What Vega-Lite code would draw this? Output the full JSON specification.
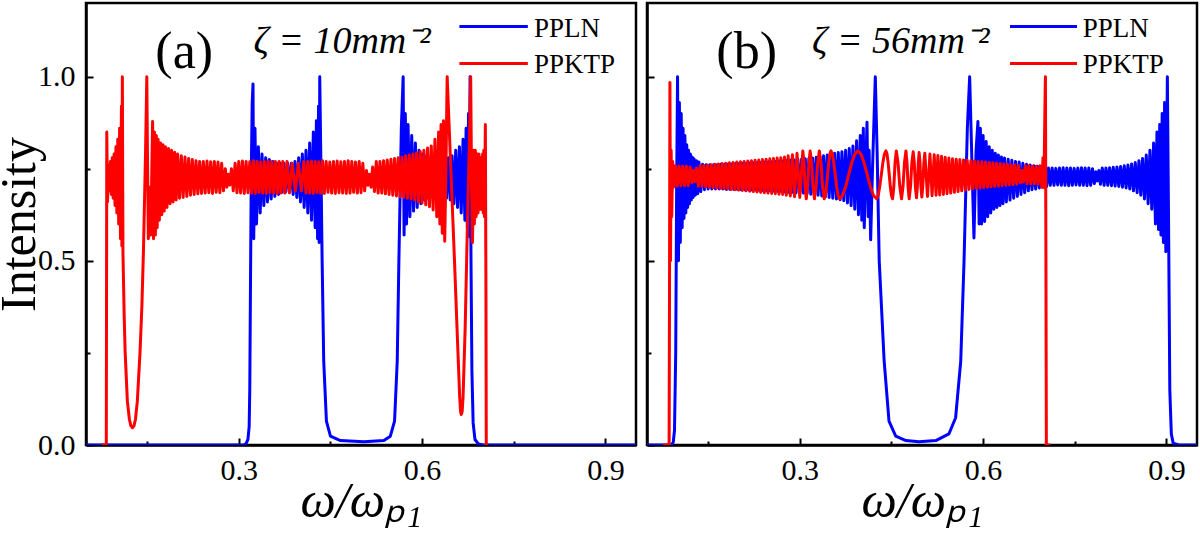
{
  "$schema": "https://vega.github.io/schema/vega-lite/v6.json",
  "description": "Normalised intensity against w/wp1 for PPLN and PPKTP, two poling densities.",
  "padding": {"left": -7, "top": 1, "right": 2, "bottom": 0},
  "spacing": 6,
  "datasets": {
    "aLN": [
      {"w":0.05,"I":0},{"w":0.308,"I":0},{"w":0.312,"I":0.004},{"w":0.315,"I":0.015},{"w":0.317,"I":0.05},{"w":0.318,"I":0.15},{"w":0.319,"I":0.4},{"w":0.3205,"I":0.75},{"w":0.322,"I":0.93},{"w":0.3233,"I":0.98},
      {"w":0.3245,"I":0.56},{"w":0.3265,"I":0.86},{"w":0.329,"I":0.6},{"w":0.332,"I":0.81},{"w":0.335,"I":0.63},{"w":0.338,"I":0.79},{"w":0.341,"I":0.65},{"w":0.344,"I":0.78},{"w":0.347,"I":0.66},{"w":0.35,"I":0.775},{"w":0.353,"I":0.668},{"w":0.356,"I":0.77},{"w":0.359,"I":0.675},{"w":0.362,"I":0.765},{"w":0.365,"I":0.68},{"w":0.368,"I":0.765},{"w":0.371,"I":0.686},{"w":0.374,"I":0.765},{"w":0.377,"I":0.688},{"w":0.38,"I":0.765},{"w":0.383,"I":0.686},{"w":0.386,"I":0.765},{"w":0.389,"I":0.68},{"w":0.392,"I":0.77},{"w":0.395,"I":0.672},{"w":0.398,"I":0.78},{"w":0.401,"I":0.66},{"w":0.404,"I":0.79},{"w":0.407,"I":0.645},{"w":0.41,"I":0.8},{"w":0.413,"I":0.63},{"w":0.416,"I":0.82},{"w":0.419,"I":0.61},{"w":0.422,"I":0.85},{"w":0.425,"I":0.59},{"w":0.427,"I":0.88},{"w":0.429,"I":0.56},{"w":0.4305,"I":0.92},{"w":0.4315,"I":0.55},
      {"w":0.4325,"I":1.0},{"w":0.4345,"I":0.75},{"w":0.4364,"I":0.5},{"w":0.439,"I":0.228},{"w":0.4434,"I":0.065},{"w":0.45,"I":0.024},{"w":0.4664,"I":0.012},{"w":0.5046,"I":0.009},{"w":0.5374,"I":0.012},{"w":0.548,"I":0.024},{"w":0.5549,"I":0.065},{"w":0.5593,"I":0.228},{"w":0.562,"I":0.5},{"w":0.566,"I":0.86},{"w":0.569,"I":1.0},
      {"w":0.5705,"I":0.57},{"w":0.5725,"I":0.9},{"w":0.5745,"I":0.6},{"w":0.577,"I":0.87},{"w":0.58,"I":0.62},{"w":0.583,"I":0.84},{"w":0.586,"I":0.635},{"w":0.589,"I":0.82},{"w":0.592,"I":0.645},{"w":0.595,"I":0.8},{"w":0.598,"I":0.655},{"w":0.601,"I":0.79},{"w":0.604,"I":0.665},{"w":0.607,"I":0.785},{"w":0.61,"I":0.67},{"w":0.613,"I":0.78},{"w":0.616,"I":0.675},{"w":0.619,"I":0.775},{"w":0.622,"I":0.675},{"w":0.625,"I":0.775},{"w":0.628,"I":0.675},{"w":0.631,"I":0.775},{"w":0.634,"I":0.675},{"w":0.637,"I":0.775},{"w":0.64,"I":0.67},{"w":0.643,"I":0.78},{"w":0.646,"I":0.665},{"w":0.649,"I":0.785},{"w":0.652,"I":0.655},{"w":0.655,"I":0.8},{"w":0.658,"I":0.645},{"w":0.661,"I":0.81},{"w":0.664,"I":0.63},{"w":0.667,"I":0.83},{"w":0.67,"I":0.61},{"w":0.672,"I":0.86},{"w":0.674,"I":0.59},{"w":0.676,"I":0.9},{"w":0.677,"I":0.566},
      {"w":0.6785,"I":1.0},{"w":0.68,"I":0.5},{"w":0.6815,"I":0.2},{"w":0.6835,"I":0.06},{"w":0.6865,"I":0.015},{"w":0.692,"I":0.003},{"w":0.7,"I":0},{"w":0.95,"I":0}
    ],
    "aKT": [
      {"w":0.076,"I":0},{"w":0.0832,"I":0},{"w":0.0836,"I":0.4},{"w":0.084,"I":0.85},{"w":0.0852,"I":0.66},{"w":0.087,"I":0.76},{"w":0.0885,"I":0.69},{"w":0.09,"I":0.77},{"w":0.0915,"I":0.68},{"w":0.093,"I":0.78},{"w":0.0945,"I":0.67},{"w":0.096,"I":0.79},{"w":0.0975,"I":0.65},{"w":0.099,"I":0.81},{"w":0.1005,"I":0.63},{"w":0.102,"I":0.83},{"w":0.1035,"I":0.6},{"w":0.105,"I":0.86},{"w":0.1065,"I":0.56},{"w":0.108,"I":0.92},{"w":0.1087,"I":0.54},
      {"w":0.1095,"I":1.0},{"w":0.1105,"I":0.52},{"w":0.1125,"I":0.35},{"w":0.114,"I":0.255},{"w":0.1177,"I":0.119},{"w":0.121,"I":0.07},{"w":0.1235,"I":0.052},{"w":0.126,"I":0.047},{"w":0.1285,"I":0.052},{"w":0.131,"I":0.07},{"w":0.134,"I":0.119},{"w":0.1385,"I":0.255},{"w":0.1415,"I":0.38},{"w":0.144,"I":0.526},{"w":0.1475,"I":0.8},{"w":0.1495,"I":1.0},
      {"w":0.1505,"I":0.8},{"w":0.152,"I":0.56},{"w":0.1545,"I":0.7},{"w":0.156,"I":0.57},{"w":0.159,"I":0.878},{"w":0.1605,"I":0.56},{"w":0.162,"I":0.85},{"w":0.1635,"I":0.57},{"w":0.165,"I":0.84},{"w":0.1665,"I":0.59},{"w":0.168,"I":0.83},{"w":0.17,"I":0.61},{"w":0.172,"I":0.82},{"w":0.174,"I":0.625},{"w":0.176,"I":0.815},{"w":0.178,"I":0.635},{"w":0.18,"I":0.81},{"w":0.1825,"I":0.645},{"w":0.185,"I":0.805},{"w":0.1875,"I":0.655},{"w":0.19,"I":0.8},{"w":0.1925,"I":0.66},{"w":0.195,"I":0.795},{"w":0.1975,"I":0.665},{"w":0.2,"I":0.79},{"w":0.203,"I":0.67},{"w":0.206,"I":0.785},{"w":0.209,"I":0.672},{"w":0.212,"I":0.782},{"w":0.215,"I":0.675},{"w":0.218,"I":0.778},{"w":0.221,"I":0.678},{"w":0.224,"I":0.775},{"w":0.227,"I":0.68},{"w":0.23,"I":0.772},{"w":0.233,"I":0.682},{"w":0.236,"I":0.77},{"w":0.239,"I":0.683},{"w":0.242,"I":0.77},{"w":0.245,"I":0.684},{"w":0.248,"I":0.771},{"w":0.251,"I":0.685},{"w":0.254,"I":0.769},{"w":0.257,"I":0.683},{"w":0.26,"I":0.77},{"w":0.263,"I":0.686},{"w":0.266,"I":0.768},{"w":0.269,"I":0.685},{"w":0.272,"I":0.765},{"w":0.275,"I":0.69},{"w":0.278,"I":0.75},{"w":0.2805,"I":0.7},{"w":0.283,"I":0.735},{"w":0.2855,"I":0.706},{"w":0.288,"I":0.75},{"w":0.291,"I":0.69},{"w":0.294,"I":0.765},{"w":0.297,"I":0.685},{"w":0.3,"I":0.77},{"w":0.303,"I":0.684},{"w":0.306,"I":0.771},{"w":0.309,"I":0.683},{"w":0.312,"I":0.77},{"w":0.315,"I":0.685},{"w":0.318,"I":0.769},{"w":0.321,"I":0.684},{"w":0.324,"I":0.772},{"w":0.327,"I":0.683},{"w":0.33,"I":0.77},{"w":0.333,"I":0.686},{"w":0.336,"I":0.768},{"w":0.339,"I":0.684},{"w":0.342,"I":0.77},{"w":0.345,"I":0.683},{"w":0.348,"I":0.771},{"w":0.351,"I":0.685},{"w":0.354,"I":0.769},{"w":0.357,"I":0.684},{"w":0.36,"I":0.77},{"w":0.363,"I":0.683},{"w":0.366,"I":0.77},{"w":0.369,"I":0.684},{"w":0.372,"I":0.77},{"w":0.3755,"I":0.684},{"w":0.379,"I":0.77},{"w":0.383,"I":0.685},{"w":0.3875,"I":0.765},{"w":0.3925,"I":0.69},{"w":0.3975,"I":0.765},{"w":0.4025,"I":0.69},{"w":0.4065,"I":0.77},{"w":0.41,"I":0.684},{"w":0.413,"I":0.77},{"w":0.416,"I":0.684},{"w":0.419,"I":0.771},{"w":0.422,"I":0.683},{"w":0.425,"I":0.77},{"w":0.428,"I":0.685},{"w":0.431,"I":0.769},{"w":0.434,"I":0.684},{"w":0.437,"I":0.772},{"w":0.44,"I":0.683},{"w":0.443,"I":0.77},{"w":0.446,"I":0.686},{"w":0.449,"I":0.768},{"w":0.452,"I":0.684},{"w":0.455,"I":0.77},{"w":0.458,"I":0.683},{"w":0.461,"I":0.771},{"w":0.464,"I":0.685},{"w":0.467,"I":0.769},{"w":0.47,"I":0.684},{"w":0.473,"I":0.77},{"w":0.476,"I":0.683},{"w":0.479,"I":0.772},{"w":0.482,"I":0.684},{"w":0.485,"I":0.77},{"w":0.488,"I":0.686},{"w":0.491,"I":0.768},{"w":0.494,"I":0.684},{"w":0.497,"I":0.77},{"w":0.5,"I":0.685},{"w":0.503,"I":0.765},{"w":0.506,"I":0.69},{"w":0.509,"I":0.745},{"w":0.5115,"I":0.705},{"w":0.514,"I":0.735},{"w":0.5165,"I":0.7},{"w":0.519,"I":0.755},{"w":0.522,"I":0.688},{"w":0.525,"I":0.77},{"w":0.528,"I":0.684},{"w":0.531,"I":0.77},{"w":0.534,"I":0.684},{"w":0.537,"I":0.772},{"w":0.54,"I":0.682},{"w":0.543,"I":0.774},{"w":0.546,"I":0.68},{"w":0.549,"I":0.776},{"w":0.552,"I":0.678},{"w":0.555,"I":0.778},{"w":0.558,"I":0.676},{"w":0.561,"I":0.78},{"w":0.564,"I":0.674},{"w":0.567,"I":0.782},{"w":0.57,"I":0.672},{"w":0.573,"I":0.785},{"w":0.576,"I":0.67},{"w":0.579,"I":0.787},{"w":0.582,"I":0.668},{"w":0.585,"I":0.79},{"w":0.588,"I":0.665},{"w":0.591,"I":0.793},{"w":0.594,"I":0.66},{"w":0.597,"I":0.797},{"w":0.6,"I":0.657},{"w":0.603,"I":0.8},{"w":0.606,"I":0.652},{"w":0.609,"I":0.806},{"w":0.612,"I":0.647},{"w":0.615,"I":0.812},{"w":0.618,"I":0.638},{"w":0.621,"I":0.83},{"w":0.624,"I":0.62},{"w":0.627,"I":0.85},{"w":0.629,"I":0.6},{"w":0.631,"I":0.87},{"w":0.633,"I":0.575},{"w":0.635,"I":0.88},{"w":0.637,"I":0.553},{"w":0.639,"I":0.75},
      {"w":0.641,"I":1.0},{"w":0.647,"I":0.75},{"w":0.653,"I":0.5},{"w":0.658,"I":0.28},{"w":0.6615,"I":0.13},{"w":0.663,"I":0.09},{"w":0.664,"I":0.083},{"w":0.6655,"I":0.09},{"w":0.667,"I":0.13},{"w":0.6705,"I":0.32},{"w":0.6735,"I":0.55},{"w":0.677,"I":0.8},{"w":0.6795,"I":1.0},
      {"w":0.681,"I":0.7},{"w":0.6825,"I":0.55},{"w":0.684,"I":0.8},{"w":0.6855,"I":0.6},{"w":0.687,"I":0.8},{"w":0.6885,"I":0.62},{"w":0.69,"I":0.79},{"w":0.6915,"I":0.63},{"w":0.693,"I":0.79},{"w":0.6945,"I":0.64},{"w":0.696,"I":0.78},{"w":0.6975,"I":0.64},{"w":0.699,"I":0.79},{"w":0.7,"I":0.63},{"w":0.701,"I":0.8},{"w":0.702,"I":0.62},{"w":0.7035,"I":0.87},{"w":0.7045,"I":0.4},{"w":0.705,"I":0},{"w":0.708,"I":0}
    ],
    "bLN": [
      {"w":0.05,"I":0},{"w":0.09,"I":0},{"w":0.093,"I":0.008},{"w":0.095,"I":0.04},{"w":0.097,"I":0.25},{"w":0.0985,"I":0.7},{"w":0.1,"I":1.0},
      {"w":0.1015,"I":0.5},{"w":0.103,"I":0.93},{"w":0.1045,"I":0.55},{"w":0.106,"I":0.9},{"w":0.1075,"I":0.59},{"w":0.109,"I":0.86},{"w":0.1105,"I":0.615},{"w":0.112,"I":0.84},{"w":0.1135,"I":0.63},{"w":0.115,"I":0.815},{"w":0.1165,"I":0.645},{"w":0.118,"I":0.8},{"w":0.1195,"I":0.655},{"w":0.121,"I":0.79},{"w":0.1225,"I":0.665},{"w":0.124,"I":0.782},{"w":0.1255,"I":0.672},{"w":0.127,"I":0.777},{"w":0.129,"I":0.678},{"w":0.131,"I":0.772},{"w":0.133,"I":0.682},{"w":0.135,"I":0.768},{"w":0.138,"I":0.688},
      {"w":0.141,"I":0.762},{"w":0.144,"I":0.693},{"w":0.147,"I":0.761},{"w":0.15,"I":0.695},{"w":0.153,"I":0.761},{"w":0.156,"I":0.695},{"w":0.159,"I":0.761},{"w":0.162,"I":0.695},{"w":0.165,"I":0.761},{"w":0.168,"I":0.695},{"w":0.171,"I":0.762},{"w":0.174,"I":0.695},{"w":0.177,"I":0.762},{"w":0.18,"I":0.694},{"w":0.183,"I":0.763},{"w":0.186,"I":0.694},{"w":0.189,"I":0.763},{"w":0.192,"I":0.694},{"w":0.195,"I":0.764},{"w":0.198,"I":0.694},{"w":0.201,"I":0.764},{"w":0.204,"I":0.693},{"w":0.207,"I":0.765},{"w":0.21,"I":0.693},{"w":0.213,"I":0.765},{"w":0.216,"I":0.693},{"w":0.219,"I":0.766},{"w":0.222,"I":0.692},{"w":0.225,"I":0.766},{"w":0.228,"I":0.692},{"w":0.231,"I":0.767},{"w":0.234,"I":0.691},{"w":0.237,"I":0.767},{"w":0.24,"I":0.691},{"w":0.243,"I":0.768},{"w":0.246,"I":0.69},{"w":0.249,"I":0.769},{"w":0.252,"I":0.69},{"w":0.255,"I":0.769},{"w":0.258,"I":0.689},{"w":0.261,"I":0.77},{"w":0.264,"I":0.689},{"w":0.267,"I":0.771},{"w":0.27,"I":0.688},{"w":0.273,"I":0.772},{"w":0.276,"I":0.687},{"w":0.279,"I":0.773},{"w":0.282,"I":0.686},{"w":0.285,"I":0.774},{"w":0.288,"I":0.686},{"w":0.291,"I":0.774},{"w":0.294,"I":0.685},{"w":0.297,"I":0.775},{"w":0.3,"I":0.685},{"w":0.303,"I":0.776},{"w":0.306,"I":0.684},{"w":0.309,"I":0.777},{"w":0.312,"I":0.683},{"w":0.315,"I":0.778},{"w":0.318,"I":0.681},{"w":0.321,"I":0.779},{"w":0.324,"I":0.68},{"w":0.327,"I":0.781},{"w":0.33,"I":0.678},{"w":0.333,"I":0.783},{"w":0.336,"I":0.676},{"w":0.339,"I":0.785},{"w":0.342,"I":0.674},{"w":0.345,"I":0.787},{"w":0.348,"I":0.672},{"w":0.351,"I":0.79},{"w":0.354,"I":0.67},{"w":0.357,"I":0.792},{"w":0.36,"I":0.668},{"w":0.363,"I":0.794},{"w":0.366,"I":0.666},{"w":0.369,"I":0.796},{"w":0.372,"I":0.663},{"w":0.375,"I":0.8},{"w":0.378,"I":0.657},{"w":0.381,"I":0.805},{"w":0.384,"I":0.65},{"w":0.387,"I":0.812},{"w":0.39,"I":0.64},{"w":0.393,"I":0.826},{"w":0.396,"I":0.625},{"w":0.399,"I":0.84},{"w":0.4015,"I":0.61},{"w":0.404,"I":0.86},
      {"w":0.4055,"I":0.59},{"w":0.41,"I":0.876},{"w":0.412,"I":0.62},{"w":0.4135,"I":0.8},{"w":0.416,"I":0.557},{"w":0.419,"I":0.75},{"w":0.4236,"I":1.0},{"w":0.4265,"I":0.8},{"w":0.43,"I":0.5},{"w":0.438,"I":0.23},{"w":0.446,"I":0.065},{"w":0.457,"I":0.024},{"w":0.4737,"I":0.012},{"w":0.495,"I":0.009},{"w":0.5226,"I":0.012},{"w":0.544,"I":0.03},{"w":0.555,"I":0.074},{"w":0.5634,"I":0.228},{"w":0.5688,"I":0.5},{"w":0.5742,"I":0.86},{"w":0.578,"I":1.0},{"w":0.582,"I":0.75},{"w":0.585,"I":0.562},{"w":0.5885,"I":0.8},{"w":0.5915,"I":0.878},{"w":0.5935,"I":0.6},
      {"w":0.5955,"I":0.86},{"w":0.5975,"I":0.6},{"w":0.6,"I":0.84},{"w":0.6025,"I":0.607},{"w":0.605,"I":0.824},{"w":0.6075,"I":0.62},{"w":0.61,"I":0.81},{"w":0.6125,"I":0.63},{"w":0.615,"I":0.8},{"w":0.6175,"I":0.64},{"w":0.62,"I":0.792},{"w":0.6225,"I":0.645},{"w":0.625,"I":0.787},{"w":0.6275,"I":0.65},{"w":0.63,"I":0.782},{"w":0.6325,"I":0.655},{"w":0.635,"I":0.779},{"w":0.638,"I":0.66},{"w":0.641,"I":0.776},{"w":0.644,"I":0.665},{"w":0.647,"I":0.773},{"w":0.65,"I":0.67},{"w":0.653,"I":0.77},{"w":0.656,"I":0.675},{"w":0.659,"I":0.768},{"w":0.662,"I":0.68},{"w":0.665,"I":0.765},{"w":0.668,"I":0.685},{"w":0.671,"I":0.762},{"w":0.674,"I":0.69},{"w":0.677,"I":0.76},{"w":0.68,"I":0.693},{"w":0.683,"I":0.758},{"w":0.686,"I":0.695},{"w":0.689,"I":0.757},{"w":0.692,"I":0.698},{"w":0.695,"I":0.756},{"w":0.698,"I":0.7},{"w":0.701,"I":0.755},{"w":0.704,"I":0.702},
      {"w":0.707,"I":0.752},{"w":0.71,"I":0.705},{"w":0.713,"I":0.752},{"w":0.716,"I":0.705},{"w":0.719,"I":0.751},{"w":0.722,"I":0.706},{"w":0.725,"I":0.752},{"w":0.728,"I":0.705},{"w":0.731,"I":0.753},{"w":0.734,"I":0.705},{"w":0.737,"I":0.752},{"w":0.74,"I":0.704},{"w":0.743,"I":0.752},{"w":0.746,"I":0.705},{"w":0.749,"I":0.751},{"w":0.752,"I":0.706},{"w":0.755,"I":0.752},{"w":0.758,"I":0.705},{"w":0.761,"I":0.753},{"w":0.764,"I":0.705},{"w":0.767,"I":0.752},{"w":0.77,"I":0.704},{"w":0.773,"I":0.752},{"w":0.776,"I":0.705},{"w":0.779,"I":0.75},{"w":0.782,"I":0.71},{"w":0.7845,"I":0.742},{"w":0.787,"I":0.717},{"w":0.7895,"I":0.745},{"w":0.792,"I":0.708},{"w":0.795,"I":0.752},{"w":0.798,"I":0.705},{"w":0.801,"I":0.752},{"w":0.804,"I":0.705},{"w":0.807,"I":0.753},{"w":0.81,"I":0.704},{"w":0.813,"I":0.754},{"w":0.816,"I":0.703},{"w":0.819,"I":0.755},{"w":0.822,"I":0.702},{"w":0.825,"I":0.756},{"w":0.828,"I":0.7},{"w":0.831,"I":0.758},{"w":0.834,"I":0.698},{"w":0.837,"I":0.76},{"w":0.84,"I":0.695},{"w":0.843,"I":0.763},{"w":0.846,"I":0.69},{"w":0.849,"I":0.767},{"w":0.852,"I":0.685},{"w":0.855,"I":0.772},{"w":0.858,"I":0.678},{"w":0.861,"I":0.778},{"w":0.864,"I":0.668},{"w":0.867,"I":0.787},{"w":0.87,"I":0.655},{"w":0.873,"I":0.8},{"w":0.876,"I":0.64},{"w":0.879,"I":0.82},{"w":0.882,"I":0.6},{"w":0.8845,"I":0.85},{"w":0.887,"I":0.585},{"w":0.889,"I":0.87},{"w":0.891,"I":0.57},{"w":0.893,"I":0.9},{"w":0.895,"I":0.55},{"w":0.897,"I":0.93},{"w":0.899,"I":0.525},
      {"w":0.9015,"I":1.0},{"w":0.9035,"I":0.6},{"w":0.9055,"I":0.15},{"w":0.908,"I":0.03},{"w":0.911,"I":0.005},{"w":0.92,"I":0},{"w":0.95,"I":0}
    ],
    "bKT": [
      {"w":0.076,"I":0},{"w":0.0862,"I":0},{"w":0.0868,"I":0.4},{"w":0.0875,"I":0.984},{"w":0.0885,"I":0.5},{"w":0.0895,"I":0.8},{"w":0.0905,"I":0.62},{"w":0.092,"I":0.77},
      {"w":0.0935,"I":0.7},{"w":0.0965,"I":0.758},{"w":0.0995,"I":0.703},{"w":0.1025,"I":0.757},{"w":0.1055,"I":0.704},{"w":0.1085,"I":0.757},{"w":0.1115,"I":0.704},{"w":0.1145,"I":0.757},{"w":0.1175,"I":0.704},{"w":0.1205,"I":0.755},{"w":0.1235,"I":0.712},{"w":0.126,"I":0.745},{"w":0.1285,"I":0.715},{"w":0.131,"I":0.752},{"w":0.134,"I":0.703},{"w":0.137,"I":0.758},{"w":0.14,"I":0.702},{"w":0.143,"I":0.759},{"w":0.146,"I":0.701},{"w":0.149,"I":0.76},{"w":0.152,"I":0.7},{"w":0.155,"I":0.761},{"w":0.158,"I":0.699},{"w":0.161,"I":0.762},{"w":0.164,"I":0.698},{"w":0.167,"I":0.763},{"w":0.17,"I":0.697},{"w":0.173,"I":0.764},{"w":0.176,"I":0.696},{"w":0.179,"I":0.765},{"w":0.182,"I":0.695},{"w":0.185,"I":0.766},{"w":0.188,"I":0.694},{"w":0.191,"I":0.767},{"w":0.194,"I":0.693},{"w":0.197,"I":0.768},{"w":0.2,"I":0.692},{"w":0.203,"I":0.769},{"w":0.206,"I":0.691},{"w":0.209,"I":0.77},{"w":0.212,"I":0.69},{"w":0.215,"I":0.771},{"w":0.218,"I":0.689},{"w":0.221,"I":0.772},{"w":0.224,"I":0.688},{"w":0.227,"I":0.773},{"w":0.23,"I":0.687},{"w":0.233,"I":0.774},{"w":0.236,"I":0.686},{"w":0.239,"I":0.775},{"w":0.242,"I":0.685},{"w":0.245,"I":0.776},{"w":0.248,"I":0.684},{"w":0.251,"I":0.777},{"w":0.254,"I":0.683},{"w":0.257,"I":0.778},{"w":0.26,"I":0.682},{"w":0.263,"I":0.779},{"w":0.266,"I":0.681},{"w":0.269,"I":0.78},{"w":0.272,"I":0.68},{"w":0.275,"I":0.782},{"w":0.278,"I":0.678},{"w":0.281,"I":0.785},{"w":0.2845,"I":0.676},{"w":0.288,"I":0.788},{"w":0.2915,"I":0.674},{"w":0.2955,"I":0.792},{"w":0.3,"I":0.672},
      {"w":0.305,"I":0.7985},{"w":0.3069,"I":0.766},{"w":0.3087,"I":0.701},{"w":0.3106,"I":0.6685},{"w":0.3127,"I":0.701},{"w":0.3149,"I":0.766},{"w":0.317,"I":0.7985},{"w":0.3193,"I":0.766},{"w":0.3217,"I":0.701},{"w":0.324,"I":0.6685},{"w":0.3267,"I":0.701},{"w":0.3293,"I":0.766},{"w":0.332,"I":0.7985},{"w":0.3347,"I":0.766},{"w":0.3373,"I":0.701},{"w":0.34,"I":0.6685},
      {"w":0.3418,"I":0.6772},{"w":0.3437,"I":0.701},{"w":0.3455,"I":0.7335},{"w":0.3473,"I":0.766},{"w":0.3492,"I":0.7898},{"w":0.351,"I":0.7985},{"w":0.3533,"I":0.7898},{"w":0.3557,"I":0.766},{"w":0.358,"I":0.7335},{"w":0.3603,"I":0.701},{"w":0.3627,"I":0.6772},{"w":0.365,"I":0.6685},
      {"w":0.37,"I":0.6772},{"w":0.375,"I":0.701},{"w":0.38,"I":0.7335},{"w":0.385,"I":0.766},{"w":0.39,"I":0.7898},{"w":0.395,"I":0.7985},{"w":0.4001,"I":0.7898},{"w":0.4052,"I":0.766},{"w":0.4104,"I":0.7335},{"w":0.4155,"I":0.701},{"w":0.4206,"I":0.6772},{"w":0.4257,"I":0.6685},
      {"w":0.4283,"I":0.6772},{"w":0.4308,"I":0.701},{"w":0.4334,"I":0.7335},{"w":0.4359,"I":0.766},{"w":0.4385,"I":0.7898},{"w":0.441,"I":0.7985},{"w":0.4428,"I":0.7898},{"w":0.4446,"I":0.766},{"w":0.4464,"I":0.7335},{"w":0.4482,"I":0.701},{"w":0.45,"I":0.6772},{"w":0.4518,"I":0.6685},
      {"w":0.4539,"I":0.701},{"w":0.4559,"I":0.766},{"w":0.458,"I":0.7985},{"w":0.4608,"I":0.766},{"w":0.4637,"I":0.701},{"w":0.4665,"I":0.6685},{"w":0.4689,"I":0.701},{"w":0.4713,"I":0.766},{"w":0.4737,"I":0.7985},{"w":0.4755,"I":0.766},{"w":0.4772,"I":0.701},{"w":0.479,"I":0.6685},{"w":0.4812,"I":0.701},{"w":0.4834,"I":0.766},{"w":0.4856,"I":0.796},{"w":0.4874,"I":0.766},{"w":0.4892,"I":0.701},{"w":0.491,"I":0.671},{"w":0.4924,"I":0.701},{"w":0.4939,"I":0.766},{"w":0.4953,"I":0.794},{"w":0.4968,"I":0.765},{"w":0.4982,"I":0.702},{"w":0.4997,"I":0.673},{"w":0.5013,"I":0.703},{"w":0.503,"I":0.764},{"w":0.5046,"I":0.792},
      {"w":0.509,"I":0.675},{"w":0.513,"I":0.79},{"w":0.5165,"I":0.677},{"w":0.52,"I":0.788},{"w":0.523,"I":0.678},{"w":0.526,"I":0.786},{"w":0.529,"I":0.679},{"w":0.532,"I":0.784},{"w":0.535,"I":0.68},{"w":0.538,"I":0.781},{"w":0.541,"I":0.682},{"w":0.544,"I":0.779},{"w":0.547,"I":0.684},{"w":0.55,"I":0.777},{"w":0.553,"I":0.686},{"w":0.556,"I":0.776},{"w":0.559,"I":0.688},{"w":0.562,"I":0.775},{"w":0.565,"I":0.69},{"w":0.568,"I":0.774},{"w":0.571,"I":0.692},{"w":0.574,"I":0.773},{"w":0.577,"I":0.694},{"w":0.58,"I":0.772},{"w":0.583,"I":0.696},{"w":0.586,"I":0.771},{"w":0.589,"I":0.697},{"w":0.592,"I":0.77},{"w":0.595,"I":0.698},{"w":0.598,"I":0.769},{"w":0.601,"I":0.699},{"w":0.604,"I":0.768},{"w":0.607,"I":0.7},{"w":0.61,"I":0.767},{"w":0.613,"I":0.701},{"w":0.616,"I":0.766},{"w":0.619,"I":0.702},{"w":0.622,"I":0.765},{"w":0.625,"I":0.703},{"w":0.628,"I":0.764},{"w":0.631,"I":0.704},{"w":0.634,"I":0.763},{"w":0.637,"I":0.705},{"w":0.64,"I":0.762},{"w":0.643,"I":0.706},{"w":0.646,"I":0.761},{"w":0.649,"I":0.707},{"w":0.652,"I":0.76},{"w":0.655,"I":0.708},{"w":0.658,"I":0.759},{"w":0.661,"I":0.712},{"w":0.6635,"I":0.745},{"w":0.666,"I":0.714},{"w":0.669,"I":0.758},{"w":0.672,"I":0.709},{"w":0.675,"I":0.758},{"w":0.678,"I":0.709},{"w":0.681,"I":0.757},{"w":0.684,"I":0.709},{"w":0.687,"I":0.757},{"w":0.69,"I":0.708},{"w":0.693,"I":0.758},{"w":0.696,"I":0.7},{"w":0.698,"I":0.78},{"w":0.6995,"I":0.7},{"w":0.7015,"I":0.96},{"w":0.702,"I":1.0},{"w":0.7028,"I":0.5},{"w":0.7035,"I":0},{"w":0.71,"I":0}
    ]
  },
  "hconcat": [
    {
      "width": 550,
      "height": 442,
      "resolve": {"axis": {"x": "independent", "y": "independent"}},
      "layer": [
        {
          "data": {"name": "aLN"},
          "mark": {"type": "line", "color": "#0000ff", "strokeWidth": 3, "strokeJoin": "round", "clip": true},
          "encoding": {
            "x": {"field": "w", "type": "quantitative", "scale": {"domain": [0.05, 0.95], "nice": false, "zero": false},
              "axis": {"orient": "bottom", "values": [0.3, 0.6, 0.9], "format": ".1f", "tickSize": -7, "labelPadding": 17, "labelFontSize": 30,
                "title": "ω/ωₚ₁", "titleFontSize": 50, "titleFontStyle": "italic", "titlePadding": -9}},
            "y": {"field": "I", "type": "quantitative", "scale": {"domain": [0, 1.2], "nice": false, "zero": false},
              "axis": {"orient": "left", "values": [0, 0.5, 1], "format": ".1f", "tickSize": -7, "labelPadding": 18, "labelFontSize": 30,
                "title": "Intensity", "titleFontSize": 50, "titlePadding": -7}}
          }
        },
        {
          "data": {"name": "aKT"},
          "mark": {"type": "line", "color": "#ff0000", "strokeWidth": 3, "strokeJoin": "round", "clip": true},
          "encoding": {
            "x": {"field": "w", "type": "quantitative", "scale": {"domain": [0.05, 0.95], "nice": false, "zero": false},
              "axis": {"orient": "bottom", "values": [0.15, 0.45, 0.75], "tickSize": -4, "labels": false, "domain": false, "title": null}},
            "y": {"field": "I", "type": "quantitative", "scale": {"domain": [0, 1.2], "nice": false, "zero": false},
              "axis": {"orient": "left", "values": [0.25, 0.75], "tickSize": -4, "labels": false, "domain": false, "title": null}}
          }
        },
        {
          "data": {"values": [{}]},
          "mark": {"type": "text", "fontSize": 52, "align": "center", "baseline": "middle"},
          "encoding": {
            "x": {"datum": 0.2107, "type": "quantitative", "axis": null},
            "y": {"datum": 1.068, "type": "quantitative", "axis": null},
            "text": {"value": "(a)"}
          }
        },
        {
          "data": {"values": [{}]},
          "mark": {"type": "text", "fontSize": 38, "fontStyle": "italic", "align": "center", "baseline": "middle"},
          "encoding": {
            "x": {"datum": 0.469, "type": "quantitative", "axis": null},
            "y": {"datum": 1.095, "type": "quantitative", "axis": null},
            "text": {"value": "ζ = 10mm⁻²"}
          }
        },
        {
          "data": {"values": [{}]},
          "mark": {"type": "rule", "color": "#0000ff", "strokeWidth": 3},
          "encoding": {
            "x": {"datum": 0.661, "type": "quantitative", "axis": null},
            "x2": {"datum": 0.773},
            "y": {"datum": 1.136, "type": "quantitative", "axis": null}
          }
        },
        {
          "data": {"values": [{}]},
          "mark": {"type": "rule", "color": "#ff0000", "strokeWidth": 3},
          "encoding": {
            "x": {"datum": 0.661, "type": "quantitative", "axis": null},
            "x2": {"datum": 0.773},
            "y": {"datum": 1.036, "type": "quantitative", "axis": null}
          }
        },
        {
          "data": {"values": [{}]},
          "mark": {"type": "text", "fontSize": 27, "align": "left", "baseline": "middle"},
          "encoding": {
            "x": {"datum": 0.783, "type": "quantitative", "axis": null},
            "y": {"datum": 1.13, "type": "quantitative", "axis": null},
            "text": {"value": "PPLN"}
          }
        },
        {
          "data": {"values": [{}]},
          "mark": {"type": "text", "fontSize": 27, "align": "left", "baseline": "middle"},
          "encoding": {
            "x": {"datum": 0.783, "type": "quantitative", "axis": null},
            "y": {"datum": 1.032, "type": "quantitative", "axis": null},
            "text": {"value": "PPKTP"}
          }
        }
      ]
    },
    {
      "width": 550,
      "height": 442,
      "resolve": {"axis": {"x": "independent", "y": "independent"}},
      "layer": [
        {
          "data": {"name": "bLN"},
          "mark": {"type": "line", "color": "#0000ff", "strokeWidth": 3, "strokeJoin": "round", "clip": true},
          "encoding": {
            "x": {"field": "w", "type": "quantitative", "scale": {"domain": [0.05, 0.95], "nice": false, "zero": false},
              "axis": {"orient": "bottom", "values": [0.3, 0.6, 0.9], "format": ".1f", "tickSize": -7, "labelPadding": 17, "labelFontSize": 30,
                "title": "ω/ωₚ₁", "titleFontSize": 50, "titleFontStyle": "italic", "titlePadding": -9}},
            "y": {"field": "I", "type": "quantitative", "scale": {"domain": [0, 1.2], "nice": false, "zero": false},
              "axis": {"orient": "left", "values": [0, 0.5, 1], "tickSize": -7, "labels": false, "title": null}}
          }
        },
        {
          "data": {"name": "bKT"},
          "mark": {"type": "line", "color": "#ff0000", "strokeWidth": 3, "strokeJoin": "round", "clip": true},
          "encoding": {
            "x": {"field": "w", "type": "quantitative", "scale": {"domain": [0.05, 0.95], "nice": false, "zero": false},
              "axis": {"orient": "bottom", "values": [0.15, 0.45, 0.75], "tickSize": -4, "labels": false, "domain": false, "title": null}},
            "y": {"field": "I", "type": "quantitative", "scale": {"domain": [0, 1.2], "nice": false, "zero": false},
              "axis": {"orient": "left", "values": [0.25, 0.75], "tickSize": -4, "labels": false, "domain": false, "title": null}}
          }
        },
        {
          "data": {"values": [{}]},
          "mark": {"type": "text", "fontSize": 52, "align": "center", "baseline": "middle"},
          "encoding": {
            "x": {"datum": 0.2131, "type": "quantitative", "axis": null},
            "y": {"datum": 1.068, "type": "quantitative", "axis": null},
            "text": {"value": "(b)"}
          }
        },
        {
          "data": {"values": [{}]},
          "mark": {"type": "text", "fontSize": 38, "fontStyle": "italic", "align": "center", "baseline": "middle"},
          "encoding": {
            "x": {"datum": 0.4652, "type": "quantitative", "axis": null},
            "y": {"datum": 1.095, "type": "quantitative", "axis": null},
            "text": {"value": "ζ = 56mm⁻²"}
          }
        },
        {
          "data": {"values": [{}]},
          "mark": {"type": "rule", "color": "#0000ff", "strokeWidth": 3},
          "encoding": {
            "x": {"datum": 0.644, "type": "quantitative", "axis": null},
            "x2": {"datum": 0.7536},
            "y": {"datum": 1.136, "type": "quantitative", "axis": null}
          }
        },
        {
          "data": {"values": [{}]},
          "mark": {"type": "rule", "color": "#ff0000", "strokeWidth": 3},
          "encoding": {
            "x": {"datum": 0.644, "type": "quantitative", "axis": null},
            "x2": {"datum": 0.7536},
            "y": {"datum": 1.036, "type": "quantitative", "axis": null}
          }
        },
        {
          "data": {"values": [{}]},
          "mark": {"type": "text", "fontSize": 27, "align": "left", "baseline": "middle"},
          "encoding": {
            "x": {"datum": 0.763, "type": "quantitative", "axis": null},
            "y": {"datum": 1.13, "type": "quantitative", "axis": null},
            "text": {"value": "PPLN"}
          }
        },
        {
          "data": {"values": [{}]},
          "mark": {"type": "text", "fontSize": 27, "align": "left", "baseline": "middle"},
          "encoding": {
            "x": {"datum": 0.763, "type": "quantitative", "axis": null},
            "y": {"datum": 1.032, "type": "quantitative", "axis": null},
            "text": {"value": "PPKTP"}
          }
        }
      ]
    }
  ],
  "config": {
    "font": "Liberation Serif, Times New Roman, serif",
    "view": {"stroke": "#000000", "strokeWidth": 2.5},
    "text": {"font": "Liberation Serif, Times New Roman, serif", "color": "#000000"},
    "axis": {
      "grid": false,
      "domainColor": "#000000",
      "domainWidth": 2.5,
      "tickColor": "#000000",
      "tickWidth": 2,
      "labelFont": "Liberation Serif, Times New Roman, serif",
      "labelColor": "#000000",
      "titleFont": "Liberation Serif, Times New Roman, serif",
      "titleColor": "#000000",
      "titleFontWeight": "normal"
    }
  }
}
